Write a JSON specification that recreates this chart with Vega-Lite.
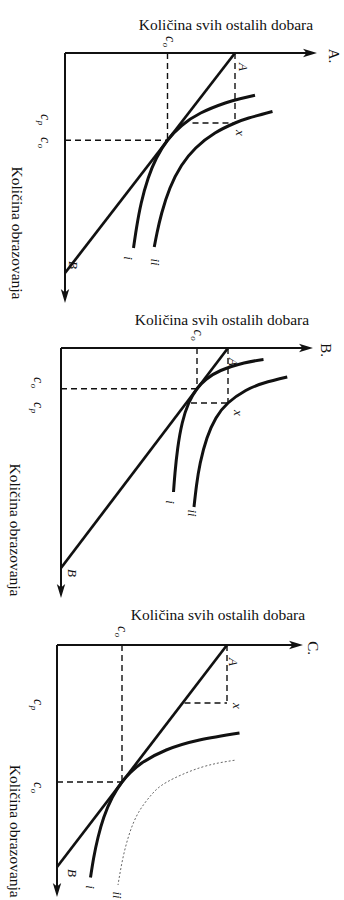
{
  "$schema": "https://vega.github.io/schema/vega-lite/v6.json",
  "background": "white",
  "padding": 0,
  "spacing": 0,
  "bounds": "flush",
  "config": {"view": {"stroke": null}},
  "datasets": {
    "segs": [
      {"panel": "A", "kind": "axis", "g": 0, "e": 0, "g2": 9.8, "e2": 0},
      {"panel": "A", "kind": "axis", "g": 0, "e": 0, "g2": 0, "e2": 9.72},
      {"panel": "A", "kind": "budget", "g": 6.8, "e": 0, "g2": 0, "e2": 8.8},
      {"panel": "A", "kind": "dash", "g": 4.1, "e": 0, "g2": 4.1, "e2": 3.49},
      {"panel": "A", "kind": "dash", "g": 0, "e": 3.49, "g2": 4.1, "e2": 3.49},
      {"panel": "A", "kind": "dash", "g": 6.8, "e": 0, "g2": 6.8, "e2": 2.8},
      {"panel": "A", "kind": "dash", "g": 5.1, "e": 2.8, "g2": 6.8, "e2": 2.8},
      {"panel": "B", "kind": "axis", "g": 0, "e": 0, "g2": 9.8, "e2": 0},
      {"panel": "B", "kind": "axis", "g": 0, "e": 0, "g2": 0, "e2": 9.72},
      {"panel": "B", "kind": "budget", "g": 6.68, "e": 0, "g2": 0, "e2": 8.8},
      {"panel": "B", "kind": "dash", "g": 5.44, "e": 0, "g2": 5.44, "e2": 1.63},
      {"panel": "B", "kind": "dash", "g": 0, "e": 1.63, "g2": 5.44, "e2": 1.63},
      {"panel": "B", "kind": "dash", "g": 6.68, "e": 0, "g2": 6.68, "e2": 2.2},
      {"panel": "B", "kind": "dash", "g": 5.2, "e": 2.2, "g2": 6.68, "e2": 2.2},
      {"panel": "C", "kind": "axis", "g": 0, "e": 0, "g2": 9.56, "e2": 0},
      {"panel": "C", "kind": "axis", "g": 0, "e": 0, "g2": 0, "e2": 9.8},
      {"panel": "C", "kind": "budget", "g": 6.8, "e": 0, "g2": 0, "e2": 8.88},
      {"panel": "C", "kind": "dash", "g": 2.6, "e": 0, "g2": 2.6, "e2": 5.48},
      {"panel": "C", "kind": "dash", "g": 0, "e": 5.48, "g2": 2.6, "e2": 5.48},
      {"panel": "C", "kind": "dash", "g": 6.8, "e": 0, "g2": 6.8, "e2": 2.32},
      {"panel": "C", "kind": "dash", "g": 5.1, "e": 2.32, "g2": 6.8, "e2": 2.32}
    ],
    "tips": [
      {"panel": "A", "dir": "right", "g": 9.8, "e": 0},
      {"panel": "A", "dir": "down", "g": 0, "e": 9.72},
      {"panel": "B", "dir": "right", "g": 9.8, "e": 0},
      {"panel": "B", "dir": "down", "g": 0, "e": 9.72},
      {"panel": "C", "dir": "right", "g": 9.56, "e": 0},
      {"panel": "C", "dir": "down", "g": 0, "e": 9.8}
    ],
    "curves": [
      {"panel": "A", "curve": "i", "line": "solid", "seq": 1, "g": 7.6, "e": 1.69},
      {"panel": "A", "curve": "i", "line": "solid", "seq": 2, "g": 7.0, "e": 1.83},
      {"panel": "A", "curve": "i", "line": "solid", "seq": 3, "g": 6.41, "e": 2.0},
      {"panel": "A", "curve": "i", "line": "solid", "seq": 4, "g": 5.43, "e": 2.4},
      {"panel": "A", "curve": "i", "line": "solid", "seq": 5, "g": 4.67, "e": 2.9},
      {"panel": "A", "curve": "i", "line": "solid", "seq": 6, "g": 4.1, "e": 3.49},
      {"panel": "A", "curve": "i", "line": "solid", "seq": 7, "g": 3.66, "e": 4.2},
      {"panel": "A", "curve": "i", "line": "solid", "seq": 8, "g": 3.33, "e": 5.0},
      {"panel": "A", "curve": "i", "line": "solid", "seq": 9, "g": 3.05, "e": 6.0},
      {"panel": "A", "curve": "i", "line": "solid", "seq": 10, "g": 2.86, "e": 7.0},
      {"panel": "A", "curve": "i", "line": "solid", "seq": 11, "g": 2.74, "e": 7.8},
      {"panel": "A", "curve": "ii", "line": "solid", "seq": 1, "g": 8.3, "e": 2.34},
      {"panel": "A", "curve": "ii", "line": "solid", "seq": 2, "g": 7.35, "e": 2.6},
      {"panel": "A", "curve": "ii", "line": "solid", "seq": 3, "g": 6.8, "e": 2.8},
      {"panel": "A", "curve": "ii", "line": "solid", "seq": 4, "g": 6.0, "e": 3.2},
      {"panel": "A", "curve": "ii", "line": "solid", "seq": 5, "g": 5.23, "e": 3.8},
      {"panel": "A", "curve": "ii", "line": "solid", "seq": 6, "g": 4.66, "e": 4.5},
      {"panel": "A", "curve": "ii", "line": "solid", "seq": 7, "g": 4.2, "e": 5.4},
      {"panel": "A", "curve": "ii", "line": "solid", "seq": 8, "g": 3.87, "e": 6.4},
      {"panel": "A", "curve": "ii", "line": "solid", "seq": 9, "g": 3.68, "e": 7.2},
      {"panel": "A", "curve": "ii", "line": "solid", "seq": 10, "g": 3.57, "e": 7.76},
      {"panel": "B", "curve": "i", "line": "solid", "seq": 1, "g": 8.1, "e": 0.46},
      {"panel": "B", "curve": "i", "line": "solid", "seq": 2, "g": 7.32, "e": 0.6},
      {"panel": "B", "curve": "i", "line": "solid", "seq": 3, "g": 6.39, "e": 0.9},
      {"panel": "B", "curve": "i", "line": "solid", "seq": 4, "g": 5.81, "e": 1.25},
      {"panel": "B", "curve": "i", "line": "solid", "seq": 5, "g": 5.44, "e": 1.63},
      {"panel": "B", "curve": "i", "line": "solid", "seq": 6, "g": 5.11, "e": 2.2},
      {"panel": "B", "curve": "i", "line": "solid", "seq": 7, "g": 4.85, "e": 3.0},
      {"panel": "B", "curve": "i", "line": "solid", "seq": 8, "g": 4.67, "e": 4.0},
      {"panel": "B", "curve": "i", "line": "solid", "seq": 9, "g": 4.56, "e": 5.0},
      {"panel": "B", "curve": "i", "line": "solid", "seq": 10, "g": 4.5, "e": 5.76},
      {"panel": "B", "curve": "ii", "line": "solid", "seq": 1, "g": 9.05, "e": 1.16},
      {"panel": "B", "curve": "ii", "line": "solid", "seq": 2, "g": 8.12, "e": 1.4},
      {"panel": "B", "curve": "ii", "line": "solid", "seq": 3, "g": 7.39, "e": 1.7},
      {"panel": "B", "curve": "ii", "line": "solid", "seq": 4, "g": 6.68, "e": 2.2},
      {"panel": "B", "curve": "ii", "line": "solid", "seq": 5, "g": 6.2, "e": 2.8},
      {"panel": "B", "curve": "ii", "line": "solid", "seq": 6, "g": 5.84, "e": 3.6},
      {"panel": "B", "curve": "ii", "line": "solid", "seq": 7, "g": 5.57, "e": 4.6},
      {"panel": "B", "curve": "ii", "line": "solid", "seq": 8, "g": 5.42, "e": 5.5},
      {"panel": "B", "curve": "ii", "line": "solid", "seq": 9, "g": 5.32, "e": 6.36},
      {"panel": "C", "curve": "i", "line": "solid", "seq": 1, "g": 7.3, "e": 3.52},
      {"panel": "C", "curve": "i", "line": "solid", "seq": 2, "g": 5.7, "e": 3.8},
      {"panel": "C", "curve": "i", "line": "solid", "seq": 3, "g": 4.37, "e": 4.2},
      {"panel": "C", "curve": "i", "line": "solid", "seq": 4, "g": 3.42, "e": 4.7},
      {"panel": "C", "curve": "i", "line": "solid", "seq": 5, "g": 2.94, "e": 5.1},
      {"panel": "C", "curve": "i", "line": "solid", "seq": 6, "g": 2.6, "e": 5.48},
      {"panel": "C", "curve": "i", "line": "solid", "seq": 7, "g": 2.21, "e": 6.1},
      {"panel": "C", "curve": "i", "line": "solid", "seq": 8, "g": 1.87, "e": 6.9},
      {"panel": "C", "curve": "i", "line": "solid", "seq": 9, "g": 1.64, "e": 7.7},
      {"panel": "C", "curve": "i", "line": "solid", "seq": 10, "g": 1.47, "e": 8.5},
      {"panel": "C", "curve": "i", "line": "solid", "seq": 11, "g": 1.34, "e": 9.3},
      {"panel": "C", "curve": "ii", "line": "dotted", "seq": 1, "g": 7.1, "e": 4.61},
      {"panel": "C", "curve": "ii", "line": "dotted", "seq": 2, "g": 5.75, "e": 4.9},
      {"panel": "C", "curve": "ii", "line": "dotted", "seq": 3, "g": 4.4, "e": 5.48},
      {"panel": "C", "curve": "ii", "line": "dotted", "seq": 4, "g": 3.77, "e": 6.0},
      {"panel": "C", "curve": "ii", "line": "dotted", "seq": 5, "g": 3.26, "e": 6.7},
      {"panel": "C", "curve": "ii", "line": "dotted", "seq": 6, "g": 2.88, "e": 7.6},
      {"panel": "C", "curve": "ii", "line": "dotted", "seq": 7, "g": 2.62, "e": 8.6},
      {"panel": "C", "curve": "ii", "line": "dotted", "seq": 8, "g": 2.44, "e": 9.6}
    ],
    "labels": [
      {"panel": "A", "kind": "title", "g": 6.44, "e": -1.12, "text": "Količina svih ostalih dobara"},
      {"panel": "A", "kind": "ytitle", "g": -1.92, "e": 7.2, "text": "Količina obrazovanja"},
      {"panel": "A", "kind": "fig", "g": 10.75, "e": 0.12, "text": "A."},
      {"panel": "A", "kind": "pt", "g": 7.12, "e": 0.56, "text": "A"},
      {"panel": "A", "kind": "pt", "g": 0.32, "e": 8.48, "text": "B"},
      {"panel": "A", "kind": "pt", "g": 7.0, "e": 3.2, "text": "x"},
      {"panel": "A", "kind": "pt", "g": 2.52, "e": 8.2, "text": "i"},
      {"panel": "A", "kind": "pt", "g": 3.6, "e": 8.36, "text": "ii"},
      {"panel": "B", "kind": "title", "g": 6.44, "e": -1.12, "text": "Količina svih ostalih dobara"},
      {"panel": "B", "kind": "ytitle", "g": -1.84, "e": 7.28, "text": "Količina obrazovanja"},
      {"panel": "B", "kind": "fig", "g": 10.6, "e": 0.08, "text": "B."},
      {"panel": "B", "kind": "pt", "g": 6.88, "e": 0.56, "text": "A"},
      {"panel": "B", "kind": "pt", "g": 0.44, "e": 9.0, "text": "B"},
      {"panel": "B", "kind": "pt", "g": 7.08, "e": 2.6, "text": "x"},
      {"panel": "B", "kind": "pt", "g": 4.36, "e": 6.16, "text": "i"},
      {"panel": "B", "kind": "pt", "g": 5.24, "e": 6.6, "text": "ii"},
      {"panel": "C", "kind": "title", "g": 6.44, "e": -1.2, "text": "Količina svih ostalih dobara"},
      {"panel": "C", "kind": "ytitle", "g": -1.68, "e": 7.45, "text": "Količina obrazovanja"},
      {"panel": "C", "kind": "fig", "g": 10.24, "e": 0.12, "text": "C."},
      {"panel": "C", "kind": "pt", "g": 7.04, "e": 0.68, "text": "A"},
      {"panel": "C", "kind": "pt", "g": 0.6, "e": 9.12, "text": "B"},
      {"panel": "C", "kind": "pt", "g": 7.2, "e": 2.44, "text": "x"},
      {"panel": "C", "kind": "pt", "g": 1.32, "e": 9.68, "text": "i"},
      {"panel": "C", "kind": "pt", "g": 2.4, "e": 10.0, "text": "ii"}
    ],
    "subs": [
      {"panel": "A", "g": 4.2, "e": -0.44, "base": "c", "sub": "o"},
      {"panel": "A", "g": -0.8, "e": 2.68, "base": "c", "sub": "p"},
      {"panel": "A", "g": -0.8, "e": 3.6, "base": "c", "sub": "o"},
      {"panel": "B", "g": 5.48, "e": -0.5, "base": "c", "sub": "o"},
      {"panel": "B", "g": -0.92, "e": 1.4, "base": "c", "sub": "o"},
      {"panel": "B", "g": -0.92, "e": 2.4, "base": "c", "sub": "p"},
      {"panel": "C", "g": 2.6, "e": -0.52, "base": "c", "sub": "o"},
      {"panel": "C", "g": -0.76, "e": 2.4, "base": "c", "sub": "p"},
      {"panel": "C", "g": -0.76, "e": 5.72, "base": "c", "sub": "o"}
    ]
  },
  "vconcat": [
    {
      "width": 344,
      "height": 297,
      "encoding": {
        "x": {"field": "g", "type": "quantitative", "scale": {"domain": [-2.6, 11.16], "nice": false, "zero": false}, "axis": null},
        "y": {"field": "e", "type": "quantitative", "scale": {"domain": [-2.12, 9.76], "nice": false, "zero": false, "reverse": true}, "axis": null}
      },
      "layer": [
        {"data": {"name": "segs"}, "transform": [{"filter": "datum.panel == 'A' && datum.kind == 'dash'"}], "mark": {"type": "rule", "color": "#111", "strokeWidth": 1.4, "strokeDash": [6, 4]}, "encoding": {"x2": {"field": "g2"}, "y2": {"field": "e2"}}},
        {"data": {"name": "segs"}, "transform": [{"filter": "datum.panel == 'A' && datum.kind == 'axis'"}], "mark": {"type": "rule", "color": "#111", "strokeWidth": 2}, "encoding": {"x2": {"field": "g2"}, "y2": {"field": "e2"}}},
        {"data": {"name": "segs"}, "transform": [{"filter": "datum.panel == 'A' && datum.kind == 'budget'"}], "mark": {"type": "rule", "color": "#111", "strokeWidth": 2.7}, "encoding": {"x2": {"field": "g2"}, "y2": {"field": "e2"}}},
        {"data": {"name": "curves"}, "transform": [{"filter": "datum.panel == 'A' && datum.line == 'solid'"}], "mark": {"type": "line", "interpolate": "natural", "color": "#111", "strokeWidth": 3}, "encoding": {"detail": {"field": "curve"}, "order": {"field": "seq"}}},
        {"data": {"name": "tips"}, "transform": [{"filter": "datum.panel == 'A' && datum.dir == 'right'"}], "mark": {"type": "point", "shape": "M1,0L-1,-0.6L-0.5,0L-1,0.6Z", "filled": true, "size": 196, "color": "#111", "opacity": 1}},
        {"data": {"name": "tips"}, "transform": [{"filter": "datum.panel == 'A' && datum.dir == 'down'"}], "mark": {"type": "point", "shape": "M0,1L-0.6,-1L0,-0.5L0.6,-1Z", "filled": true, "size": 196, "color": "#111", "opacity": 1}},
        {"data": {"name": "labels"}, "transform": [{"filter": "datum.panel == 'A' && datum.kind == 'title'"}], "mark": {"type": "text", "font": "Liberation Serif", "fontSize": 15.5, "color": "#111", "align": "center", "baseline": "middle"}, "encoding": {"text": {"field": "text"}}},
        {"data": {"name": "labels"}, "transform": [{"filter": "datum.panel == 'A' && datum.kind == 'ytitle'"}], "mark": {"type": "text", "font": "Liberation Serif", "fontSize": 15.5, "color": "#111", "align": "center", "baseline": "middle", "angle": 90}, "encoding": {"text": {"field": "text"}}},
        {"data": {"name": "labels"}, "transform": [{"filter": "datum.panel == 'A' && datum.kind == 'fig'"}], "mark": {"type": "text", "font": "Liberation Serif", "fontSize": 15, "color": "#111", "align": "center", "baseline": "middle", "angle": 90}, "encoding": {"text": {"field": "text"}}},
        {"data": {"name": "labels"}, "transform": [{"filter": "datum.panel == 'A' && datum.kind == 'pt'"}], "mark": {"type": "text", "font": "Liberation Serif", "fontStyle": "italic", "fontSize": 13, "color": "#111", "align": "center", "baseline": "middle", "angle": 90}, "encoding": {"text": {"field": "text"}}},
        {"data": {"name": "subs"}, "transform": [{"filter": "datum.panel == 'A'"}], "mark": {"type": "text", "font": "Liberation Serif", "fontStyle": "italic", "fontSize": 14, "color": "#111", "align": "center", "baseline": "middle", "angle": 90, "dx": -3}, "encoding": {"text": {"field": "base"}}},
        {"data": {"name": "subs"}, "transform": [{"filter": "datum.panel == 'A'"}], "mark": {"type": "text", "font": "Liberation Serif", "fontStyle": "italic", "fontSize": 9, "color": "#111", "align": "center", "baseline": "middle", "angle": 90, "dx": 3, "dy": 4}, "encoding": {"text": {"field": "sub"}}}
      ]
    },
    {
      "width": 344,
      "height": 297,
      "encoding": {
        "x": {"field": "g", "type": "quantitative", "scale": {"domain": [-2.44, 11.32], "nice": false, "zero": false}, "axis": null},
        "y": {"field": "e", "type": "quantitative", "scale": {"domain": [-2.04, 9.84], "nice": false, "zero": false, "reverse": true}, "axis": null}
      },
      "layer": [
        {"data": {"name": "segs"}, "transform": [{"filter": "datum.panel == 'B' && datum.kind == 'dash'"}], "mark": {"type": "rule", "color": "#111", "strokeWidth": 1.4, "strokeDash": [6, 4]}, "encoding": {"x2": {"field": "g2"}, "y2": {"field": "e2"}}},
        {"data": {"name": "segs"}, "transform": [{"filter": "datum.panel == 'B' && datum.kind == 'axis'"}], "mark": {"type": "rule", "color": "#111", "strokeWidth": 2}, "encoding": {"x2": {"field": "g2"}, "y2": {"field": "e2"}}},
        {"data": {"name": "segs"}, "transform": [{"filter": "datum.panel == 'B' && datum.kind == 'budget'"}], "mark": {"type": "rule", "color": "#111", "strokeWidth": 2.7}, "encoding": {"x2": {"field": "g2"}, "y2": {"field": "e2"}}},
        {"data": {"name": "curves"}, "transform": [{"filter": "datum.panel == 'B' && datum.line == 'solid'"}], "mark": {"type": "line", "interpolate": "natural", "color": "#111", "strokeWidth": 3}, "encoding": {"detail": {"field": "curve"}, "order": {"field": "seq"}}},
        {"data": {"name": "tips"}, "transform": [{"filter": "datum.panel == 'B' && datum.dir == 'right'"}], "mark": {"type": "point", "shape": "M1,0L-1,-0.6L-0.5,0L-1,0.6Z", "filled": true, "size": 196, "color": "#111", "opacity": 1}},
        {"data": {"name": "tips"}, "transform": [{"filter": "datum.panel == 'B' && datum.dir == 'down'"}], "mark": {"type": "point", "shape": "M0,1L-0.6,-1L0,-0.5L0.6,-1Z", "filled": true, "size": 196, "color": "#111", "opacity": 1}},
        {"data": {"name": "labels"}, "transform": [{"filter": "datum.panel == 'B' && datum.kind == 'title'"}], "mark": {"type": "text", "font": "Liberation Serif", "fontSize": 15.5, "color": "#111", "align": "center", "baseline": "middle"}, "encoding": {"text": {"field": "text"}}},
        {"data": {"name": "labels"}, "transform": [{"filter": "datum.panel == 'B' && datum.kind == 'ytitle'"}], "mark": {"type": "text", "font": "Liberation Serif", "fontSize": 15.5, "color": "#111", "align": "center", "baseline": "middle", "angle": 90}, "encoding": {"text": {"field": "text"}}},
        {"data": {"name": "labels"}, "transform": [{"filter": "datum.panel == 'B' && datum.kind == 'fig'"}], "mark": {"type": "text", "font": "Liberation Serif", "fontSize": 15, "color": "#111", "align": "center", "baseline": "middle", "angle": 90}, "encoding": {"text": {"field": "text"}}},
        {"data": {"name": "labels"}, "transform": [{"filter": "datum.panel == 'B' && datum.kind == 'pt'"}], "mark": {"type": "text", "font": "Liberation Serif", "fontStyle": "italic", "fontSize": 13, "color": "#111", "align": "center", "baseline": "middle", "angle": 90}, "encoding": {"text": {"field": "text"}}},
        {"data": {"name": "subs"}, "transform": [{"filter": "datum.panel == 'B'"}], "mark": {"type": "text", "font": "Liberation Serif", "fontStyle": "italic", "fontSize": 14, "color": "#111", "align": "center", "baseline": "middle", "angle": 90, "dx": -3}, "encoding": {"text": {"field": "base"}}},
        {"data": {"name": "subs"}, "transform": [{"filter": "datum.panel == 'B'"}], "mark": {"type": "text", "font": "Liberation Serif", "fontStyle": "italic", "fontSize": 9, "color": "#111", "align": "center", "baseline": "middle", "angle": 90, "dx": 3, "dy": 4}, "encoding": {"text": {"field": "sub"}}}
      ]
    },
    {
      "width": 344,
      "height": 306,
      "encoding": {
        "x": {"field": "g", "type": "quantitative", "scale": {"domain": [-2.28, 11.48], "nice": false, "zero": false}, "axis": null},
        "y": {"field": "e", "type": "quantitative", "scale": {"domain": [-2.04, 10.2], "nice": false, "zero": false, "reverse": true}, "axis": null}
      },
      "layer": [
        {"data": {"name": "segs"}, "transform": [{"filter": "datum.panel == 'C' && datum.kind == 'dash'"}], "mark": {"type": "rule", "color": "#111", "strokeWidth": 1.4, "strokeDash": [6, 4]}, "encoding": {"x2": {"field": "g2"}, "y2": {"field": "e2"}}},
        {"data": {"name": "segs"}, "transform": [{"filter": "datum.panel == 'C' && datum.kind == 'axis'"}], "mark": {"type": "rule", "color": "#111", "strokeWidth": 2}, "encoding": {"x2": {"field": "g2"}, "y2": {"field": "e2"}}},
        {"data": {"name": "segs"}, "transform": [{"filter": "datum.panel == 'C' && datum.kind == 'budget'"}], "mark": {"type": "rule", "color": "#111", "strokeWidth": 2.7}, "encoding": {"x2": {"field": "g2"}, "y2": {"field": "e2"}}},
        {"data": {"name": "curves"}, "transform": [{"filter": "datum.panel == 'C' && datum.line == 'solid'"}], "mark": {"type": "line", "interpolate": "natural", "color": "#111", "strokeWidth": 3}, "encoding": {"detail": {"field": "curve"}, "order": {"field": "seq"}}},
        {"data": {"name": "curves"}, "transform": [{"filter": "datum.panel == 'C' && datum.line == 'dotted'"}], "mark": {"type": "line", "interpolate": "natural", "color": "#666", "strokeWidth": 1, "strokeDash": [2, 2]}, "encoding": {"detail": {"field": "curve"}, "order": {"field": "seq"}}},
        {"data": {"name": "tips"}, "transform": [{"filter": "datum.panel == 'C' && datum.dir == 'right'"}], "mark": {"type": "point", "shape": "M1,0L-1,-0.6L-0.5,0L-1,0.6Z", "filled": true, "size": 196, "color": "#111", "opacity": 1}},
        {"data": {"name": "tips"}, "transform": [{"filter": "datum.panel == 'C' && datum.dir == 'down'"}], "mark": {"type": "point", "shape": "M0,1L-0.6,-1L0,-0.5L0.6,-1Z", "filled": true, "size": 196, "color": "#111", "opacity": 1}},
        {"data": {"name": "labels"}, "transform": [{"filter": "datum.panel == 'C' && datum.kind == 'title'"}], "mark": {"type": "text", "font": "Liberation Serif", "fontSize": 15.5, "color": "#111", "align": "center", "baseline": "middle"}, "encoding": {"text": {"field": "text"}}},
        {"data": {"name": "labels"}, "transform": [{"filter": "datum.panel == 'C' && datum.kind == 'ytitle'"}], "mark": {"type": "text", "font": "Liberation Serif", "fontSize": 15.5, "color": "#111", "align": "center", "baseline": "middle", "angle": 90}, "encoding": {"text": {"field": "text"}}},
        {"data": {"name": "labels"}, "transform": [{"filter": "datum.panel == 'C' && datum.kind == 'fig'"}], "mark": {"type": "text", "font": "Liberation Serif", "fontSize": 15, "color": "#111", "align": "center", "baseline": "middle", "angle": 90}, "encoding": {"text": {"field": "text"}}},
        {"data": {"name": "labels"}, "transform": [{"filter": "datum.panel == 'C' && datum.kind == 'pt'"}], "mark": {"type": "text", "font": "Liberation Serif", "fontStyle": "italic", "fontSize": 13, "color": "#111", "align": "center", "baseline": "middle", "angle": 90}, "encoding": {"text": {"field": "text"}}},
        {"data": {"name": "subs"}, "transform": [{"filter": "datum.panel == 'C'"}], "mark": {"type": "text", "font": "Liberation Serif", "fontStyle": "italic", "fontSize": 14, "color": "#111", "align": "center", "baseline": "middle", "angle": 90, "dx": -3}, "encoding": {"text": {"field": "base"}}},
        {"data": {"name": "subs"}, "transform": [{"filter": "datum.panel == 'C'"}], "mark": {"type": "text", "font": "Liberation Serif", "fontStyle": "italic", "fontSize": 9, "color": "#111", "align": "center", "baseline": "middle", "angle": 90, "dx": 3, "dy": 4}, "encoding": {"text": {"field": "sub"}}}
      ]
    }
  ]
}
